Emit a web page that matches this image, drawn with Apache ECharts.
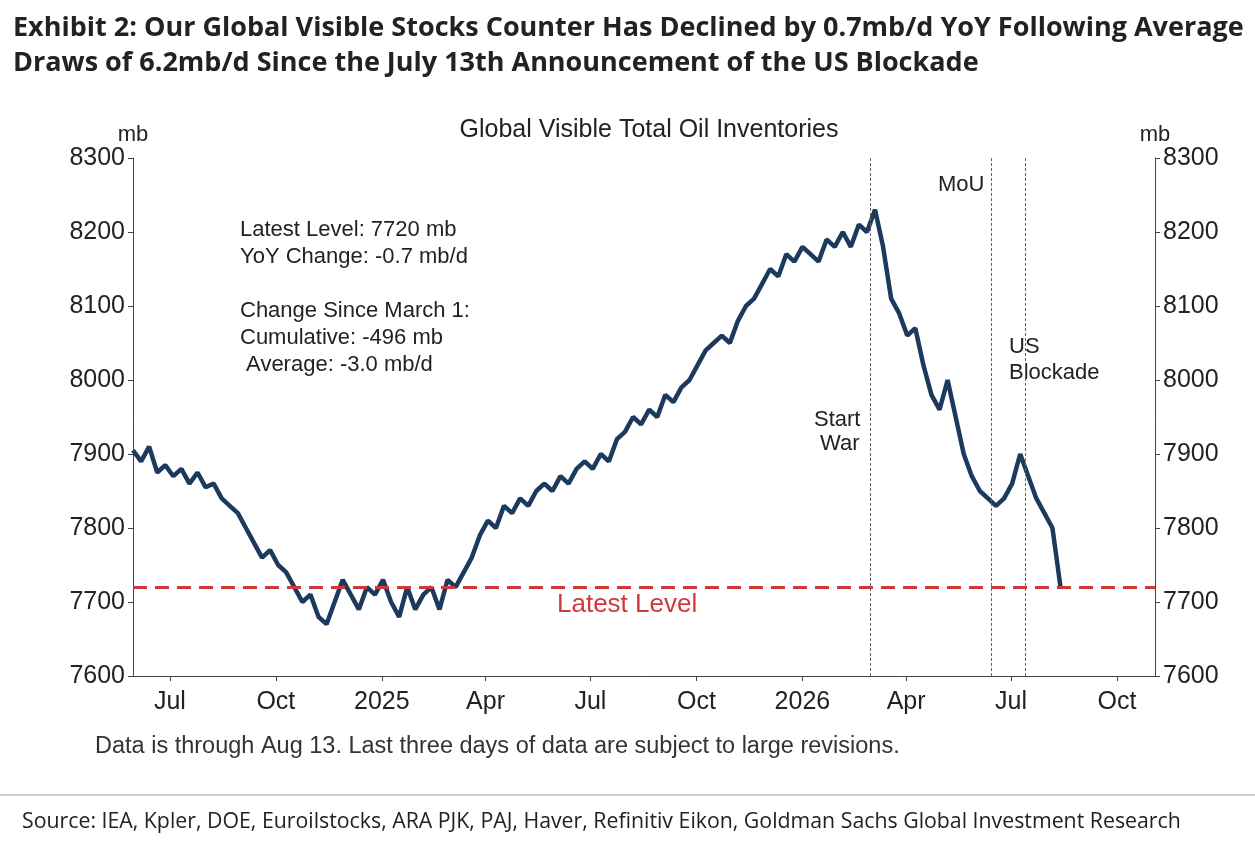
<!DOCTYPE html>
<html><head><meta charset="utf-8">
<script src="https://cdn.jsdelivr.net/npm/echarts@6/dist/echarts.min.js"></script>
<style>body{margin:0;background:#fff}#c{width:1255px;height:841px}</style>
</head><body><div id="c"></div>
<script>
const startDate = '2024-05-30';
const values2024 = [7905,7890,7910,7875,7885,7870,7880,7860,7875,7855,7860,7840,7830,7820,7800,7780,7760,7770,7750,7740,7720,7700,7710,7680,7670,7700,7730,7710,7690,7720,7710];
const values2025 = [7730,7700,7680,7720,7690,7710,7720,7690,7730,7720,7740,7760,7790,7810,7800,7830,7820,7840,7830,7850,7860,7850,7870,7860,7880,7890,7880,7900,7890,7920,7930,7950,7940,7960,7950,7980,7970,7990,8000,8020,8040,8050,8060,8050,8080,8100,8110,8130,8150,8140,8170,8160];
const values2026 = [8180,8170,8160,8190,8180,8200,8180,8210,8200,8230,8180,8110,8090,8060,8070,8020,7980,7960,8000,7950,7900,7870,7850,7840,7830,7840,7860,7900,7870,7840,7820,7800,7720];
const latestLevel = 7720;
const eventDates = ['2026-03-01','2026-06-14','2026-07-13'];
const tickDates = ['2024-07-01','2024-10-01','2025-01-01','2025-04-01','2025-07-01','2025-10-01','2026-01-01','2026-04-01','2026-07-01','2026-10-01'];
const tickLabels = ['Jul','Oct','2025','Apr','Jul','Oct','2026','Apr','Jul','Oct'];

const allVals = values2024.concat(values2025, values2026);
const t0 = Date.parse(startDate + 'T00:00:00Z');
const data = allVals.map((v,i)=>[t0 + i*7*86400000, v]);
const ticks = tickDates.map(d=>Date.parse(d+'T00:00:00Z'));
const labelMap = {}; ticks.forEach((t,i)=>labelMap[t]=tickLabels[i]);
const F = 'Liberation Sans, Arial, sans-serif';
const yAxisCommon = {type:'value',min:7600,max:8300,interval:100,name:'mb',nameGap:12,
  nameTextStyle:{color:'#222',fontSize:22,fontFamily:F},
  axisLine:{show:true,lineStyle:{color:'#444'}},axisTick:{show:true,length:5,lineStyle:{color:'#444'}},
  splitLine:{show:false},axisLabel:{color:'#222',fontSize:25,fontFamily:F,formatter:v=>String(v),margin:8}};
const chart = echarts.init(document.getElementById('c'));
chart.setOption({
  animation:false,
  grid:{left:133,right:100,top:158,bottom:165},
  xAxis:{type:'value',min:Date.parse('2024-05-30T00:00:00Z'),max:Date.parse('2026-11-03T00:00:00Z'),
    axisLine:{lineStyle:{color:'#444'}},
    axisTick:{customValues:ticks,length:5,lineStyle:{color:'#444'}},
    axisLabel:{customValues:ticks,formatter:v=>labelMap[v]||'',color:'#222',fontSize:25,fontFamily:F,margin:14},
    splitLine:{show:false}},
  yAxis:[Object.assign({position:'left'},yAxisCommon),Object.assign({position:'right'},yAxisCommon)],
  title:[{text:'Exhibit 2: Our Global Visible Stocks Counter Has Declined by 0.7mb/d YoY Following Average\nDraws of 6.2mb/d Since the July 13th Announcement of the US Blockade',
    left:8,top:6,textStyle:{fontFamily:'Open Sans, sans-serif',fontWeight:'bold',fontSize:27,color:'#222',lineHeight:35}},
    {text:'Global Visible Total Oil Inventories',left:644,top:113,textAlign:'center',textStyle:{fontFamily:F,fontWeight:'normal',fontSize:25,color:'#222'}}],
  series:[{type:'line',data:data,showSymbol:false,lineStyle:{color:'#1b3a5e',width:4.5},
    markLine:{symbol:'none',silent:true,
      data:[{yAxis:latestLevel,lineStyle:{color:'#d0393b',type:[14,8],width:3},label:{show:false}}]
        .concat(eventDates.map(d=>({xAxis:Date.parse(d+'T00:00:00Z'),lineStyle:{color:'#666',type:[3,2],width:1},label:{show:false}})))}}],
  graphic:[
    {type:'text',left:240,top:216,style:{text:'Latest Level: 7720 mb\nYoY Change: -0.7 mb/d\n\nChange Since March 1:\nCumulative: -496 mb\n Average: -3.0 mb/d',font:'22px '+F,fill:'#222',lineHeight:27}},
    {type:'text',left:557,top:592,style:{text:'Latest Level',font:'26px '+F,fill:'#d0393b'}},
    {type:'text',left:814,top:408,style:{text:'Start\n War',font:'22px '+F,fill:'#222',lineHeight:24}},
    {type:'text',left:938,top:174,style:{text:'MoU',font:'22px '+F,fill:'#222'}},
    {type:'text',left:1009,top:334,style:{text:'US\nBlockade',font:'22px '+F,fill:'#222',lineHeight:26}},
    {type:'text',left:95,top:735,style:{text:'Data is through Aug 13. Last three days of data are subject to large revisions.',font:'23.5px '+F,fill:'#333'}},
    {type:'line',shape:{x1:0,y1:795,x2:1255,y2:795},style:{stroke:'#999',lineWidth:1}},
    {type:'text',left:22,top:811,style:{text:'Source: IEA, Kpler, DOE, Euroilstocks, ARA PJK, PAJ, Haver, Refinitiv Eikon, Goldman Sachs Global Investment Research',font:'21.3px Open Sans, sans-serif',fill:'#222'}}
  ]
});
</script></body></html>
